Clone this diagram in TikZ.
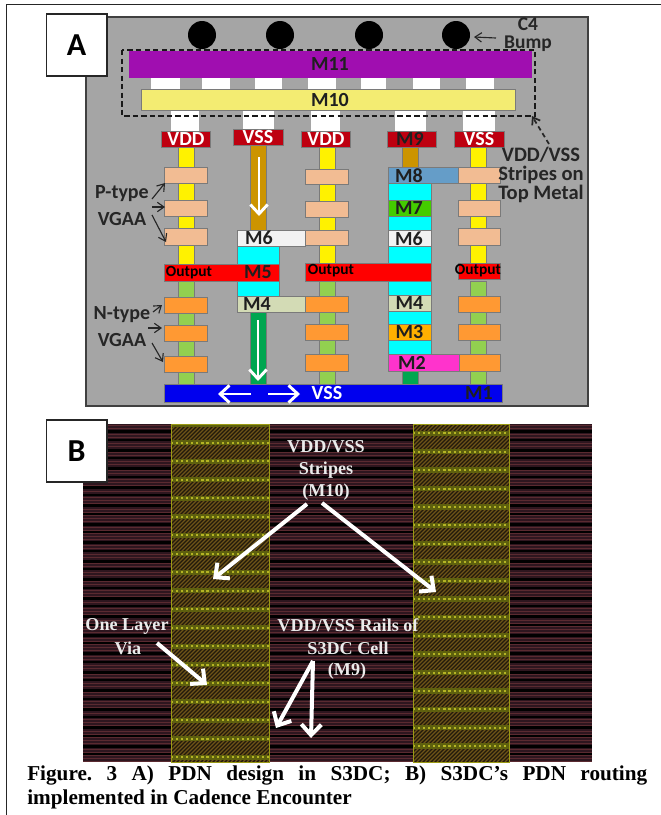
\documentclass[tikz,border=0pt]{standalone}
\usepackage{fontspec}
\setmainfont{Liberation Serif}
\setsansfont{Carlito}
\usetikzlibrary{arrows.meta,calc}
\definecolor{panel}{HTML}{A5A5A5}
\definecolor{edgeg}{HTML}{7A7A7A}
\definecolor{mpurple}{HTML}{A00EB0}
\definecolor{mpale}{HTML}{F3EC72}
\definecolor{mdred}{HTML}{BE0010}
\definecolor{mbrown}{HTML}{CC9400}
\definecolor{mpeach}{HTML}{F2BC93}
\definecolor{morange}{HTML}{FF9933}
\definecolor{mlgreen}{HTML}{92D050}
\definecolor{mdgreen}{HTML}{00A650}
\definecolor{mcyan}{HTML}{00FFFF}
\definecolor{msix}{HTML}{F2F2F2}
\definecolor{mfour}{HTML}{D3DBB5}
\definecolor{meight}{HTML}{659DC8}
\definecolor{mseven}{HTML}{44CC00}
\definecolor{mthree}{HTML}{FFB000}
\definecolor{mtwo}{HTML}{FF33CC}
\definecolor{mblue}{HTML}{0000EE}
\definecolor{bgmar}{HTML}{2E161F}
\definecolor{bgline}{HTML}{5A2A30}
\definecolor{hatchb}{HTML}{221A0C}
\definecolor{hatchl}{HTML}{6E5418}
\definecolor{rowy}{HTML}{5E600E}
\definecolor{rowd}{HTML}{B4B424}
\definecolor{stripeb}{HTML}{9A9A14}
\tikzset{
  x=0.75pt,y=-0.75pt,
  blk/.style={draw=edgeg,line width=0.7pt},
  lbl/.style={font=\sffamily\bfseries\fontsize{15}{17}\selectfont,text=black!88,inner sep=0pt,align=center},
  wlbl/.style={lbl,text=white},
  outlbl/.style={font=\sffamily\bfseries\fontsize{11.6}{13}\selectfont,text=black,inner sep=0pt},
  side/.style={font=\sffamily\bfseries\fontsize{15}{17.2}\selectfont,text=black!85,inner sep=0pt,align=center},
  thinarr/.style={draw=black!85,line width=0.85pt,-{Straight Barb[length=5pt,width=7pt]}},
  whitearr/.style={draw=white,line width=2.2pt,-{Straight Barb[length=7pt,width=13pt,line width=2.2pt]}},
  bigarr/.style={draw=white,line width=3pt,-{Straight Barb[length=8pt,width=15pt,line width=3pt]}},
  serlbl/.style={font=\rmfamily\bfseries\fontsize{13.6}{17}\selectfont,text=white!92!black,inner sep=0pt,align=center},
  capt/.style={font=\rmfamily\bfseries\fontsize{15.9}{18}\selectfont,text=black,inner sep=0pt,anchor=base west},
  letterbox/.style={draw=black!85,line width=1pt,fill=white,font=\sffamily\bfseries\fontsize{24}{28}\selectfont,text=black,inner sep=0pt,minimum width=45.5pt,minimum height=46.5pt}
}
\newcommand{\Bx}[5]{\path[blk,fill=#5] (#1,#2) rectangle (#3,#4);}
\newcommand{\Pl}[5]{\path[fill=#5] (#1,#2) rectangle (#3,#4);}
\begin{document}
\begin{tikzpicture}
\useasboundingbox (0,0) rectangle (661,815);
\fill[white] (0,0) rectangle (661,815);
% frame
\draw[black!85,line width=1.3pt] (6.5,815) -- (6.5,4.5) -- (661,4.5);
% panel A
\draw[fill=panel,draw=black!75,line width=1.2pt] (86,17) rectangle (588,406);
% bumps
\foreach \n/\x in {b1/202,b2/280,b3/369,b4/456}{\node[circle,fill=black,inner sep=0pt,minimum size=21pt] (\n) at (\x,35) {};}
% top stack connectors
\foreach \a/\b in {151/180,202/230,255/282,308/336,361/386,413/440,466/494}{\Pl{\a}{78}{\b}{89}{white}}
\foreach \a/\b in {171/199,243/274,311/340,395/426,463/495}{\Pl{\a}{110}{\b}{131}{white}}
\Pl{129}{51}{532}{78}{mpurple}
\Bx{141}{89}{515}{110}{mpale}
% pillars
\foreach \x in {178,319,470}{\Bx{\x}{147}{\the\numexpr\x+16\relax}{264}{yellow}
  \Bx{\x}{281}{\the\numexpr\x+16\relax}{384}{mlgreen}}
% top bars
\Bx{161}{131}{210}{147}{mdred}
\Bx{233}{129}{283}{145}{mdred}
\Bx{301}{131}{350}{147}{mdred}
\Bx{387}{131}{436}{147}{mdred}
\Bx{454}{131}{504}{147}{mdred}
% brown
\Bx{250}{145}{266}{230}{mbrown}
\Bx{402}{147}{418}{167}{mbrown}
% peach columns
\foreach \a/\b in {167/183,200/216,228/245}{\Bx{164}{\a}{207}{\b}{mpeach}\Bx{458}{\a}{500}{\b}{mpeach}}
\foreach \a/\b in {169/184,201/217,230/245}{\Bx{305}{\a}{348}{\b}{mpeach}}
% orange columns
\foreach \a/\b in {297/313,325/341,356/372}{\Bx{164}{\a}{207}{\b}{morange}}
\foreach \a/\b in {296/312,324/340,354/371}{\Bx{305}{\a}{348}{\b}{morange}\Bx{458}{\a}{500}{\b}{morange}}
% column 2
\Bx{237}{246}{279}{264}{mcyan}
\Bx{237}{281}{279}{296}{mcyan}
\Bx{237}{230}{305}{246}{msix}
\Bx{237}{296}{305}{312}{mfour}
\Bx{164}{264}{279}{281}{red}
\Bx{250}{312}{266}{384}{mdgreen}
% column 4
\Bx{388}{183}{431}{200}{mcyan}
\Bx{388}{216}{431}{230}{mcyan}
\Bx{388}{246}{431}{263}{mcyan}
\Bx{388}{281}{431}{295}{mcyan}
\Bx{388}{311}{431}{324}{mcyan}
\Bx{388}{340}{431}{354}{mcyan}
\Bx{388}{167}{458}{183}{meight}
\Bx{388}{200}{431}{216}{mseven}
\Bx{388}{230}{431}{246}{msix}
\Bx{388}{295}{431}{311}{mfour}
\Bx{388}{324}{431}{340}{mthree}
\Bx{388}{354}{459}{371}{mtwo}
\Bx{402}{371}{418}{384}{mdgreen}
\Bx{305}{263}{431}{281}{red}
\Bx{458}{263}{500}{279}{red}
\Bx{458}{167}{500}{183}{mpeach}
\Bx{459}{354}{500}{371}{morange}
\Bx{164}{384}{502}{402}{mblue}
% dashed outline
\draw[black!90,line width=1.5pt,dash pattern=on 4pt off 2.4pt] (122,50) rectangle (535,116);
% labels
\node[lbl] (lm11) at (330,64.5) {M11};
\node[lbl] (lm10) at (330,100) {M10};
\node[wlbl] (lvdd1) at (186,139) {VDD};
\node[wlbl] (lvss1) at (258,137.5) {VSS};
\node[wlbl] (lvdd2) at (326,139) {VDD};
\node[lbl] (lm9) at (410,139) {M9};
\node[wlbl] (lvss2) at (479,139) {VSS};
\node[lbl] (lm8) at (409,175.5) {M8};
\node[lbl] (lm7) at (409,208.5) {M7};
\node[lbl] (lm6a) at (259,238) {M6};
\node[lbl] (lm6b) at (409,238.5) {M6};
\node[lbl] (lm5) at (258,272.5) {M5};
\node[lbl] (lm4a) at (257,304) {M4};
\node[lbl] (lm4b) at (409.5,303.5) {M4};
\node[lbl] (lm3) at (409.5,332) {M3};
\node[lbl] (lm2) at (412,363) {M2};
\node[lbl] (lm1) at (479,393) {M1};
\node[wlbl] (lvss3) at (327,393.5) {VSS};
\node[outlbl] (o1) at (189,272.5) {Output};
\node[outlbl] (o2) at (331,271) {Output};
\node[outlbl] (o3) at (478,271) {Output};
% side labels
\node[side] (ptype) at (122,194) {P-type};
\node[side] (pvgaa) at (122,219.5) {VGAA};
\node[side] (ntype) at (122,315) {N-type};
\node[side] (nvgaa) at (122,340) {VGAA};
\node[side,font=\sffamily\bfseries\fontsize{14.6}{13.6}\selectfont] (c4) at (528,35) {C4\\Bump};
\node[side,font=\sffamily\bfseries\fontsize{15.4}{14.2}\selectfont] (vstripes) at (541,174.5) {VDD/VSS\\Stripes on\\Top Metal};
% thin arrows
\coordinate (pa1) at (152,199); \coordinate (pb1) at (165,183);
\coordinate (pa2) at (152,207); \coordinate (pb2) at (165,207);
\coordinate (pa3) at (152,215); \coordinate (pb3) at (166,242);
\coordinate (na1) at (153,312); \coordinate (nb1) at (162,305);
\coordinate (na2) at (148,328); \coordinate (nb2) at (162,328);
\coordinate (na3) at (152,343); \coordinate (nb3) at (163,362);
\coordinate (ca) at (496,38); \coordinate (cb) at (474,37);
\coordinate (da) at (549,144); \coordinate (db) at (532,116);
\foreach \s/\e in {pa1/pb1,pa2/pb2,pa3/pb3,na1/nb1,na2/nb2,na3/nb3,ca/cb}{\draw[thinarr] (\s) -- (\e);}
\draw[thinarr,line width=1.3pt,dash pattern=on 3.5pt off 2.5pt] (da) -- (db);
% white arrows A
\coordinate (w1a) at (259,157); \coordinate (w1b) at (259,216);
\coordinate (w2a) at (258,320); \coordinate (w2b) at (258,381);
\coordinate (w3a) at (251,394); \coordinate (w3b) at (218,394);
\coordinate (w4a) at (268,394); \coordinate (w4b) at (300,394);
\foreach \s/\e in {w1a/w1b,w2a/w2b,w3a/w3b,w4a/w4b}{\draw[whitearr] (\s) -- (\e);}
% panel B
\fill[bgmar] (83,424) rectangle (592,762);
\begin{scope}
\clip (83,424) rectangle (592,762);
\foreach \k in {0,...,112}{\draw[bgline,line width=0.3pt] (83,424.8+3*\k) -- (592,424.8+3*\k);}
\foreach \k in {0,...,18}{
  \fill[black] (83,430+18.5*\k) rectangle (592,433+18.5*\k);
  \fill[black] (83,438.5+18.5*\k) rectangle (592,440.5+18.5*\k);}
\end{scope}
\begin{scope}
\clip (171,424) rectangle (269,762);
\fill[hatchb] (171,424) rectangle (269,762);
\foreach \k in {-85,...,25}{\draw[hatchl,line width=0.9pt] (171+4*\k,762) -- (509+4*\k,424);}
\foreach \k in {-1,...,18}{
  \fill[rowy] (171,440+18.5*\k) rectangle (269,445.4+18.5*\k);
  \draw[rowd,line width=1.5pt,dash pattern=on 1.6pt off 2.2pt] (171,442.7+18.5*\k) -- (269,442.7+18.5*\k);}
\end{scope}
\begin{scope}
\clip (413,424) rectangle (509,762);
\fill[hatchb] (413,424) rectangle (509,762);
\foreach \k in {-85,...,25}{\draw[hatchl,line width=0.9pt] (413+4*\k,762) -- (751+4*\k,424);}
\foreach \k in {-1,...,18}{
  \fill[rowy] (413,430.6+18.4*\k) rectangle (509,436+18.4*\k);
  \draw[rowd,line width=1.5pt,dash pattern=on 1.6pt off 2.2pt] (413,433.3+18.4*\k) -- (509,433.3+18.4*\k);}
\end{scope}
\draw[stripeb,line width=0.6pt] (171,424) rectangle (269,762);
\draw[stripeb,line width=0.6pt] (413,424) rectangle (509,762);
% B texts
\node[serlbl] (s1) at (326,447) {VDD/VSS};
\node[serlbl] (s2) at (326,470) {Stripes};
\node[serlbl] (s3) at (326,492.5) {(M10)};
\node[serlbl] (s4) at (127,626) {One Layer};
\node[serlbl] (s5) at (128,648) {Via};
\node[serlbl] (s6) at (348,625) {VDD/VSS Rails of};
\node[serlbl] (s7) at (348,648) {S3DC Cell};
\node[serlbl] (s8) at (347,671) {(M9)};
% B arrows
\coordinate (a1s) at (307,504); \coordinate (a1e) at (213,579);
\coordinate (a2s) at (322,503); \coordinate (a2e) at (436,592);
\coordinate (a3s) at (157,643); \coordinate (a3e) at (207,685);
\coordinate (a4s) at (313,661); \coordinate (a4e) at (276,728);
\coordinate (a5e) at (311,738);
\foreach \s/\e in {a1s/a1e,a2s/a2e,a3s/a3e,a4s/a4e,a4s/a5e}{\draw[bigarr] (\s) -- (\e);}
% letter boxes
\node[letterbox] (la) at (76.5,45) {A};
\node[letterbox] (lb) at (76.5,451) {B};
% caption
\node[capt] (cap1) at (27,780) {\frenchspacing\makebox[465pt][s]{Figure. 3 A) PDN design in S3DC; B) S3DC’s PDN routing}};
\node[capt] (cap2) at (27,804) {implemented in Cadence Encounter};
\end{tikzpicture}
\end{document}
